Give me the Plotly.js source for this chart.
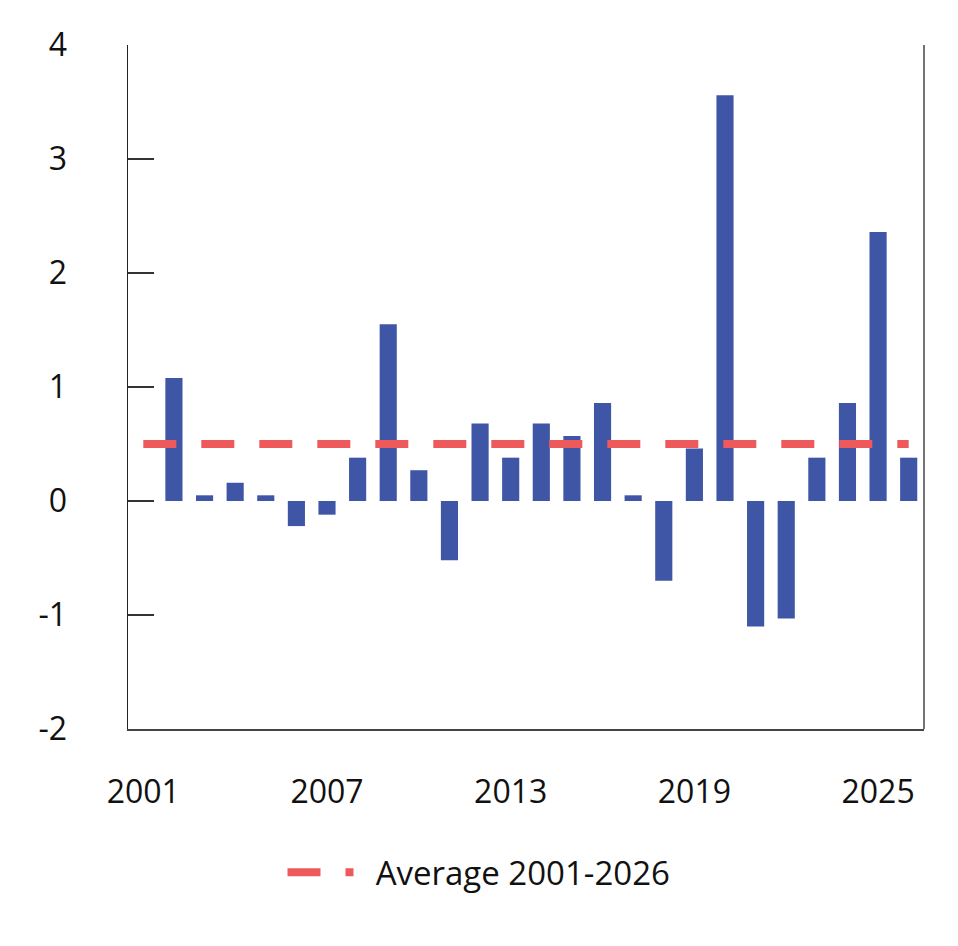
<!DOCTYPE html>
<html>
<head>
<meta charset="utf-8">
<script src="https://cdn.plot.ly/plotly-3.0.1.min.js"></script>
<style>
  html, body { margin: 0; padding: 0; background: #fff; }
  #chart { width: 958px; height: 946px; }
</style>
</head>
<body>
<div id="chart"></div>
<script>
var years = [2002, 2003, 2004, 2005, 2006, 2007, 2008, 2009, 2010, 2011, 2012, 2013, 2014,
             2015, 2016, 2017, 2018, 2019, 2020, 2021, 2022, 2023, 2024, 2025, 2026];
var values = [1.08, 0.05, 0.16, 0.05, -0.22, -0.12, 0.38, 1.55, 0.27, -0.52, 0.68, 0.38, 0.68,
              0.57, 0.86, 0.05, -0.70, 0.46, 3.56, -1.10, -1.03, 0.38, 0.86, 2.36, 0.38];
var avgYears = [2001, 2026];
var avgValues = [0.5, 0.5];
var xTicks = [2001, 2007, 2013, 2019, 2025];
var yTicks = [-2, -1, 0, 1, 2, 3, 4];
var yTickText = ["-2", "-1", "0", "1", "2", "3", "4"];

function drawChart() {
  var bars = {
    x: years,
    y: values,
    type: "bar",
    marker: { color: "#3F56A6" },
    showlegend: false,
    hoverinfo: "x+y"
  };

  var avg = {
    x: avgYears,
    y: avgValues,
    type: "scatter",
    mode: "lines",
    // nbsp pads the gap between the legend symbol and its label
    name: "\u00a0\u00a0Average 2001-2026",
    line: { color: "#EE5A5C", width: 8, dash: "33px,25px" }
  };

  var layout = {
    width: 958,
    height: 946,
    margin: { l: 128, r: 34, t: 45, b: 217, autoexpand: false },
    paper_bgcolor: "#fff",
    plot_bgcolor: "#fff",
    font: { family: "Open Sans, sans-serif", size: 32, color: "#111" },
    bargap: 0.44,
    showlegend: true,
    legend: {
      orientation: "h",
      x: 0.5,
      xanchor: "center",
      xref: "container",
      y: 0.078,
      yanchor: "middle",
      yref: "container",
      itemwidth: 66,
      font: { size: 33, color: "#111" }
    },
    xaxis: {
      range: [2000.5, 2026.5],
      tickvals: xTicks,
      ticks: "",
      showgrid: false,
      zeroline: false,
      showline: true,
      linecolor: "#444",
      linewidth: 1.5,
      ticklabelstandoff: 34
    },
    yaxis: {
      range: [-2, 4],
      tickvals: yTicks,
      ticktext: yTickText,
      ticks: "inside",
      ticklen: 26,
      tickwidth: 1.5,
      tickcolor: "#333",
      showgrid: false,
      zeroline: false,
      showline: true,
      linecolor: "#222",
      linewidth: 1.5,
      ticklabelstandoff: 53
    },
    shapes: [{
      type: "line",
      xref: "paper", yref: "paper",
      x0: 1, x1: 1, y0: 0, y1: 1,
      line: { color: "#444", width: 1.5 }
    }]
  };

  Plotly.newPlot("chart", [bars, avg], layout, { displayModeBar: false, staticPlot: true });
}

drawChart();
</script>
</body>
</html>
